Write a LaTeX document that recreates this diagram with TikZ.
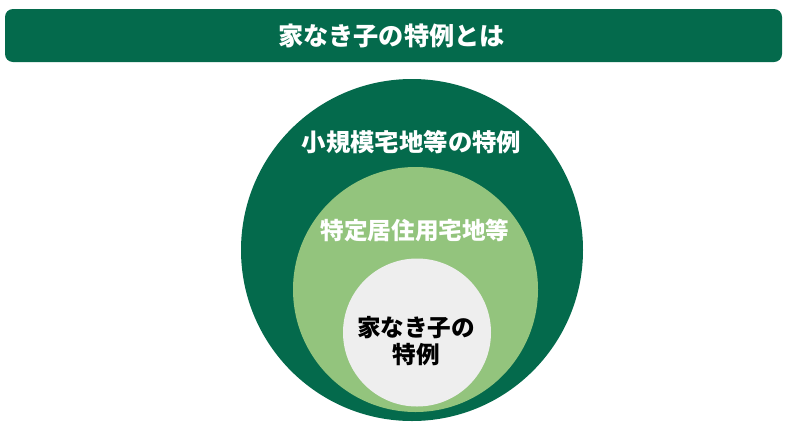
\documentclass[tikz,border=0pt]{standalone}
\usepackage{fontspec}
\setmainfont{Noto Sans CJK JP}
\definecolor{dkgreen}{HTML}{046A4C}
\definecolor{ltgreen}{HTML}{93C47D}
\definecolor{ltgrey}{HTML}{EEEEEE}
\tikzset{
  disc/.style={circle, inner sep=0pt, draw=none},
  lbl/.style={font=\fontsize{23.6}{27}\selectfont\bfseries, inner sep=0pt, align=center},
}
\begin{document}
\begin{tikzpicture}[x=1pt,y=-1pt]
\useasboundingbox (0,0) rectangle (788,424);
\fill[white] (0,0) rectangle (788,424);
\node[fill=dkgreen, rounded corners=8pt, minimum width=777pt, minimum height=53pt, inner sep=0pt] (bar) at (393.5,35.5) {};
\node[font=\fontsize{25.2}{29}\selectfont\bfseries, text=white, inner sep=0pt] (title) at (391.5,36) {家なき子の特例とは};
\node[disc, fill=dkgreen, minimum size=342pt] (big) at (412,250) {};
\node[disc, fill=ltgreen, minimum size=245pt] (mid) at (415.5,289.5) {};
\node[disc, fill=ltgrey, minimum size=148pt] (small) at (417,332.5) {};
\node[lbl, text=white, font=\fontsize{24.4}{28}\selectfont\bfseries] (t1) at (411.5,142) {小規模宅地等の特例};
\node[lbl, text=white] (t2) at (415,230) {特定居住用宅地等};
\node[lbl, text=black] (t3) at (416,341.5) {家なき子の\\特例};
\end{tikzpicture}
\end{document}
